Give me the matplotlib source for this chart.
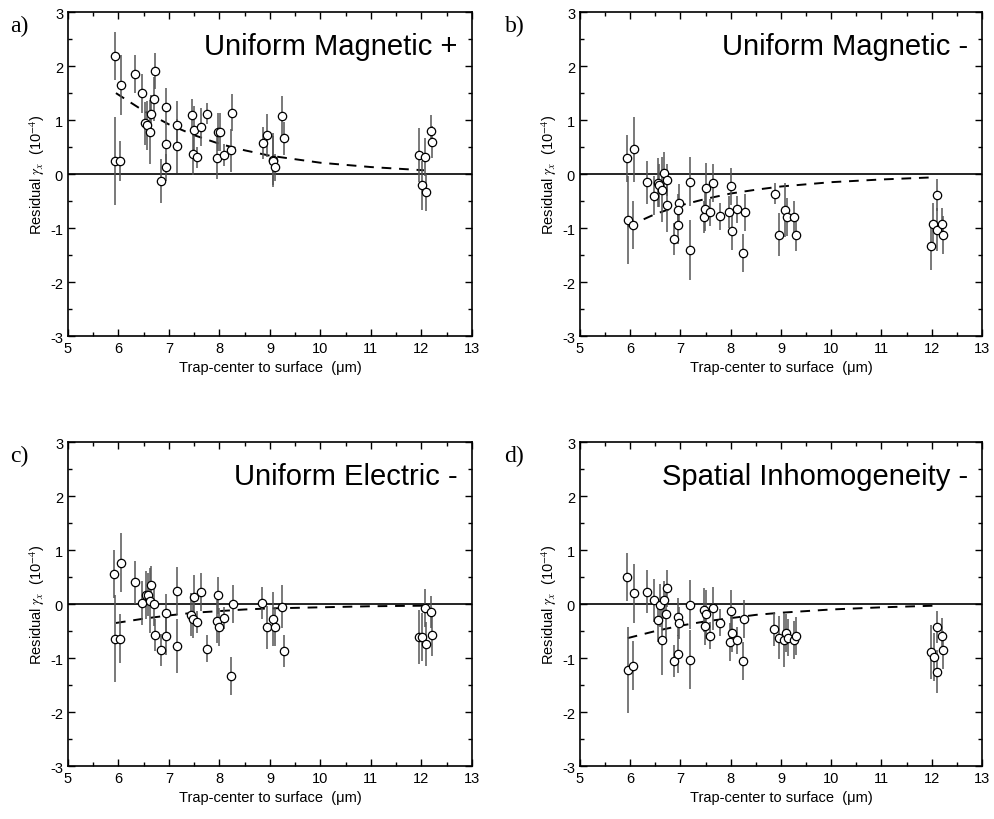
import matplotlib
matplotlib.use("Agg")
import matplotlib.pyplot as plt
from matplotlib.ticker import MultipleLocator

# ===========================
# CONFIGURATION SECTION
# ===========================

OUTPUT_PATH = "out.png"

plt.rcParams['font.family'] = ['Liberation Sans', 'DejaVu Sans']
plt.rcParams['mathtext.fontset'] = 'stix'
plt.rcParams['axes.unicode_minus'] = False

# Shared fit-curve abscissa (trap-center to surface, um)
fit_x = [5.95, 6.5, 7.0, 7.5, 8.0, 8.5, 9.0, 10.0, 11.0, 12.05]

# a) Uniform Magnetic +
xa = [5.93, 5.93, 6.05, 6.04, 6.32, 6.46, 6.53, 6.57, 6.62, 6.65, 6.71, 6.72, 6.85, 6.94, 6.95,
      6.94, 7.16, 7.16, 7.45, 7.47, 7.49, 7.56, 7.63, 7.76, 7.95, 7.98, 8.01, 8.10, 8.23, 8.25,
      8.86, 8.95, 9.06, 9.07, 9.11, 9.24, 9.27, 11.96, 12.08, 12.01, 12.10, 12.18, 12.21]
ya = [2.19, 0.24, 1.65, 0.25, 1.85, 1.50, 0.94, 0.90, 0.78, 1.12, 1.39, 1.91, -0.13, 1.25, 0.56,
      0.13, 0.91, 0.52, 1.09, 0.38, 0.81, 0.31, 0.87, 1.12, 0.30, 0.78, 0.78, 0.35, 0.44, 1.14,
      0.58, 0.72, 0.26, 0.25, 0.13, 1.07, 0.66, 0.36, 0.32, -0.21, -0.34, 0.80, 0.59]
ea = [0.45, 0.82, 0.55, 0.37, 0.35, 0.36, 0.40, 0.45, 0.60, 0.35, 0.40, 0.33, 0.40, 0.35, 0.40,
      0.25, 0.45, 0.50, 0.30, 0.40, 0.45, 0.20, 0.35, 0.20, 0.40, 0.35, 0.35, 0.20, 0.40, 0.35,
      0.30, 0.40, 0.50, 0.45, 0.25, 0.38, 0.30, 0.50, 0.35, 0.45, 0.35, 0.30, 0.30]
fit_a = [1.50, 1.17, 0.92, 0.72, 0.56, 0.44, 0.34, 0.21, 0.13, 0.07]

# b) Uniform Magnetic -
xb = [5.94, 6.07, 5.95, 6.06, 6.34, 6.48, 6.56, 6.58, 6.64, 6.67, 6.74, 6.73, 6.87, 6.97, 6.96,
      6.96, 7.18, 7.18, 7.46, 7.48, 7.51, 7.59, 7.64, 7.78, 7.97, 8.00, 8.02, 8.12, 8.25, 8.28,
      8.88, 8.96, 9.09, 9.11, 9.26, 9.29, 12.10, 12.03, 12.11, 12.20, 12.23, 11.98]
yb = [0.29, 0.46, -0.85, -0.94, -0.15, -0.40, -0.16, -0.21, -0.29, 0.02, -0.11, -0.57, -1.20, -0.53, -0.66,
      -0.95, -0.14, -1.41, -0.79, -0.65, -0.25, -0.71, -0.17, -0.78, -0.70, -0.23, -1.06, -0.65, -1.46, -0.71,
      -0.36, -1.12, -0.67, -0.80, -0.80, -1.13, -0.39, -0.93, -1.03, -0.93, -1.13, -1.33]
eb = [0.43, 0.60, 0.82, 0.45, 0.40, 0.36, 0.45, 0.40, 0.60, 0.38, 0.30, 0.50, 0.30, 0.35, 0.30,
      0.35, 0.45, 0.55, 0.30, 0.40, 0.45, 0.25, 0.35, 0.25, 0.30, 0.35, 0.35, 0.25, 0.35, 0.35,
      0.20, 0.40, 0.50, 0.35, 0.30, 0.30, 0.30, 0.40, 0.40, 0.30, 0.35, 0.45]
fit_b = [-0.97, -0.74, -0.58, -0.46, -0.36, -0.29, -0.23, -0.15, -0.10, -0.06]

# c) Uniform Electric -
xc = [5.92, 6.05, 5.93, 6.04, 6.32, 6.46, 6.55, 6.58, 6.63, 6.65, 6.71, 6.72, 6.85, 6.95, 6.94,
      7.16, 7.16, 7.44, 7.47, 7.49, 7.56, 7.63, 7.76, 7.95, 7.98, 8.00, 8.10, 8.23, 8.26, 8.85,
      8.94, 9.06, 9.10, 9.23, 9.27, 11.96, 12.01, 12.10, 12.08, 12.18, 12.20]
yc = [0.56, 0.77, -0.64, -0.64, 0.40, 0.02, 0.17, 0.17, 0.06, 0.36, 0.00, -0.57, -0.85, -0.17, -0.59,
      0.24, -0.78, -0.20, -0.27, 0.14, -0.33, 0.22, -0.83, -0.32, 0.16, -0.43, -0.26, -1.33, 0.00, 0.02,
      -0.43, -0.28, -0.42, -0.05, -0.87, -0.61, -0.61, -0.74, -0.07, -0.15, -0.57]
ec = [0.45, 0.55, 0.80, 0.45, 0.40, 0.40, 0.45, 0.40, 0.60, 0.35, 0.40, 0.30, 0.30, 0.35, 0.35,
      0.45, 0.50, 0.40, 0.35, 0.40, 0.20, 0.35, 0.25, 0.40, 0.35, 0.35, 0.20, 0.35, 0.35, 0.30,
      0.40, 0.50, 0.35, 0.40, 0.30, 0.50, 0.45, 0.40, 0.35, 0.30, 0.40]
fit_c = [-0.35, -0.27, -0.21, -0.16, -0.13, -0.10, -0.08, -0.06, -0.04, -0.03]

# d) Spatial Inhomogeneity -
xd = [5.94, 6.07, 5.95, 6.05, 6.34, 6.48, 6.56, 6.59, 6.67, 6.73, 6.72, 6.64, 6.87, 6.95, 6.97,
      6.95, 7.18, 7.18, 7.46, 7.51, 7.48, 7.58, 7.65, 7.79, 7.98, 8.00, 8.03, 8.12, 8.25, 8.27,
      8.87, 8.96, 9.07, 9.10, 9.13, 9.25, 9.29, 11.98, 12.04, 12.10, 12.11, 12.20, 12.23]
yd = [0.50, 0.20, -1.22, -1.14, 0.23, 0.07, -0.30, -0.02, 0.07, 0.29, -0.19, -0.66, -1.06, -0.24, -0.35,
      -0.93, -0.01, -1.03, -0.11, -0.19, -0.41, -0.59, -0.08, -0.35, -0.70, -0.13, -0.53, -0.67, -1.06, -0.27,
      -0.47, -0.62, -0.66, -0.54, -0.62, -0.66, -0.59, -0.88, -0.98, -0.42, -1.25, -0.60, -0.85]
ed = [0.45, 0.55, 0.80, 0.45, 0.40, 0.40, 0.40, 0.40, 0.35, 0.35, 0.50, 0.65, 0.30, 0.35, 0.30,
      0.35, 0.45, 0.55, 0.40, 0.45, 0.35, 0.25, 0.40, 0.25, 0.35, 0.40, 0.35, 0.25, 0.35, 0.35,
      0.30, 0.40, 0.50, 0.35, 0.35, 0.35, 0.35, 0.50, 0.45, 0.30, 0.40, 0.35, 0.35]
fit_d = [-0.63, -0.50, -0.40, -0.32, -0.26, -0.20, -0.16, -0.10, -0.06, -0.03]

# Panel layout: [left, bottom, width, height] in figure fractions, plus tag position
PANELS = [
    {"tag": "a)", "title": "Uniform Magnetic +", "x": xa, "y": ya, "err": ea, "fit": fit_a,
     "rect": [0.0683, 0.589, 0.406, 0.395], "tag_x": 0.010},
    {"tag": "b)", "title": "Uniform Magnetic -", "x": xb, "y": yb, "err": eb, "fit": fit_b,
     "rect": [0.5829, 0.589, 0.404, 0.395], "tag_x": 0.507},
    {"tag": "c)", "title": "Uniform Electric -", "x": xc, "y": yc, "err": ec, "fit": fit_c,
     "rect": [0.0683, 0.0646, 0.406, 0.395], "tag_x": 0.010},
    {"tag": "d)", "title": "Spatial Inhomogeneity -", "x": xd, "y": yd, "err": ed, "fit": fit_d,
     "rect": [0.5829, 0.0646, 0.404, 0.395], "tag_x": 0.507},
]

# ===========================
# PLOTTING
# ===========================

fig = plt.figure(figsize=(9.95, 8.2), dpi=100)

for p in PANELS:
    ax = fig.add_axes(p["rect"])
    ax.axhline(0, color="black", lw=1.2, zorder=1)
    ax.plot(fit_x, p["fit"], color="black", lw=1.4, dashes=(5, 4), zorder=2)
    ax.errorbar(p["x"], p["y"], yerr=p["err"], fmt="o", ms=6, mfc="white", mec="black",
                mew=0.9, ecolor="#555555", elinewidth=1.1, capsize=0, zorder=3)

    ax.set_xlim(5, 13)
    ax.set_ylim(-3, 3)
    ax.xaxis.set_major_locator(MultipleLocator(1))
    ax.xaxis.set_minor_locator(MultipleLocator(0.5))
    ax.yaxis.set_major_locator(MultipleLocator(1))
    ax.yaxis.set_minor_locator(MultipleLocator(0.5))
    ax.tick_params(which="both", direction="in", top=True, right=True, labelsize=10.5, width=1)
    ax.tick_params(which="major", length=5)
    ax.tick_params(which="minor", length=3)
    for s in ax.spines.values():
        s.set_linewidth(1.2)

    ax.set_xlabel("Trap-center to surface  (\u03bcm)", fontsize=10.5, labelpad=4)
    ax.set_ylabel(r"Residual $\gamma_x$  (10$^{-4}$)", fontsize=10.5, labelpad=2)
    ax.text(0.965, 0.895, p["title"], transform=ax.transAxes, ha="right", va="center", fontsize=21)

    y0, h = p["rect"][1], p["rect"][3]
    fig.text(p["tag_x"], y0 + h - 0.003, p["tag"], ha="left", va="top", fontsize=17,
             family=["Liberation Serif", "DejaVu Serif"])

fig.savefig(OUTPUT_PATH, dpi=100)
plt.close(fig)
